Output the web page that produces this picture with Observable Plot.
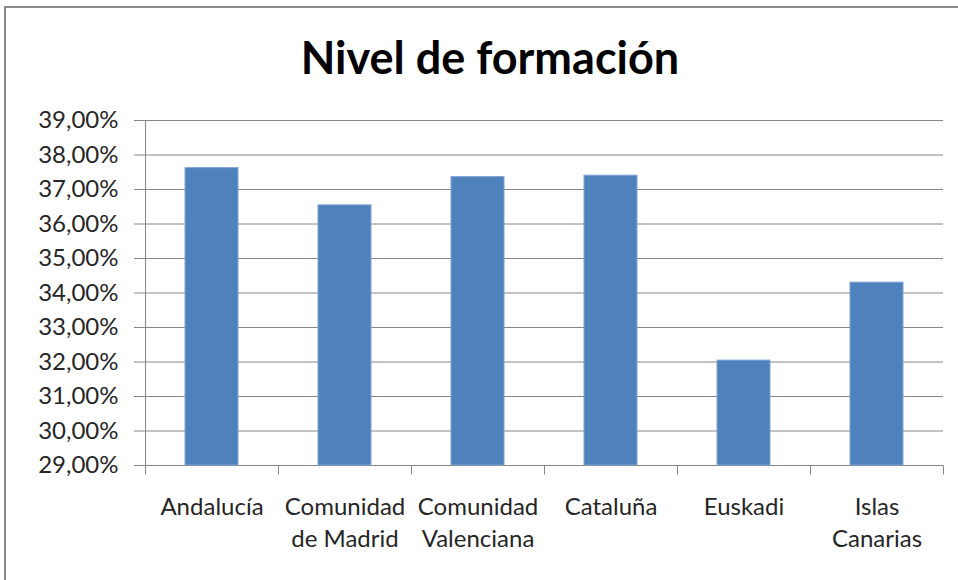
<!DOCTYPE html>
<html>
<head>
<meta charset="utf-8">
<script src="https://cdn.jsdelivr.net/npm/d3@7"></script>
<script src="https://cdn.jsdelivr.net/npm/@observablehq/plot@0.6"></script>
<style>
  html, body { margin: 0; padding: 0; background: #fff; overflow: hidden; width: 958px; height: 580px; }
  #frame { position: absolute; left: 4px; top: 6px; width: 1000px; height: 1000px; border: 2px solid #8a8a8a; pointer-events: none; }
  #title { width: 980px; height: 100px; box-sizing: border-box; padding-top: 35px; text-align: center;
           font-family: Lato, sans-serif; font-weight: bold; font-size: 45px; line-height: 45px; color: #000; }
  #chart svg { display: block; }
</style>
</head>
<body>
<div id="title">Nivel de formación</div>
<div id="chart"></div>
<div id="frame"></div>
<script>
const categories = ["Andalucía", "Comunidad de Madrid", "Comunidad Valenciana", "Cataluña", "Euskadi", "Islas Canarias"];
const labels = ["Andalucía", "Comunidad\nde Madrid", "Comunidad\nValenciana", "Cataluña", "Euskadi", "Islas\nCanarias"];
const values = [37.62, 36.54, 37.36, 37.40, 32.04, 34.30];
const yTicks = [29, 30, 31, 32, 33, 34, 35, 36, 37, 38, 39];

const yMin = yTicks[0];
const yMax = yTicks[yTicks.length - 1];
const data = categories.map((c, i) => ({region: c, value: values[i]}));
const fmt = d => d.toFixed(2).replace(".", ",") + "%";
const gridColor = "#868686";

const boundaryTicks = (index, scales) => {
  const x = scales.x, y = scales.y;
  const bw = typeof x.bandwidth === "function" ? x.bandwidth() : (x(categories[1]) - x(categories[0]));
  const edges = categories.map(c => x(c)).concat([x(categories[categories.length - 1]) + bw]);
  const yb = y(yMin);
  const g = d3.create("svg:g").attr("stroke", gridColor).attr("stroke-width", 1).attr("transform", "translate(0.5,0.5)");
  g.selectAll("line").data(edges).join("line")
    .attr("x1", d => Math.round(d)).attr("x2", d => Math.round(d))
    .attr("y1", (d, i) => i === 0 ? Math.round(y(yMax)) : Math.round(yb))
    .attr("y2", Math.round(yb) + 9);
  return g.node();
};

const chart = Plot.plot({
  width: 958,
  height: 480,
  marginTop: 20,
  marginBottom: 115,
  marginLeft: 144,
  marginRight: 15,
  style: {fontFamily: "Lato, sans-serif", fontSize: "24px", color: "#262626", background: "transparent", overflow: "visible"},
  x: {domain: categories, padding: 0, axis: null},
  y: {domain: [yMin, yMax], axis: null},
  marks: [
    Plot.gridY(yTicks, {stroke: gridColor, strokeOpacity: 1, strokeWidth: 1}),
    Plot.barY(data, {x: "region", y1: yMin, y2: "value", fill: "#4F81BD", stroke: "#7fa4d4", strokeWidth: 1, insetLeft: 40, insetRight: 40}),
    Plot.axisY({ticks: yTicks, tickFormat: fmt, tickSize: 10, tickPadding: 16, stroke: gridColor, color: "#262626", label: null}),
    Plot.axisX({tickSize: 0, tickPadding: 27, tickFormat: d => labels[categories.indexOf(d)], lineHeight: 1.33, color: "#262626", label: null}),
    boundaryTicks
  ]
});
document.getElementById("chart").appendChild(chart);
</script>
</body>
</html>
